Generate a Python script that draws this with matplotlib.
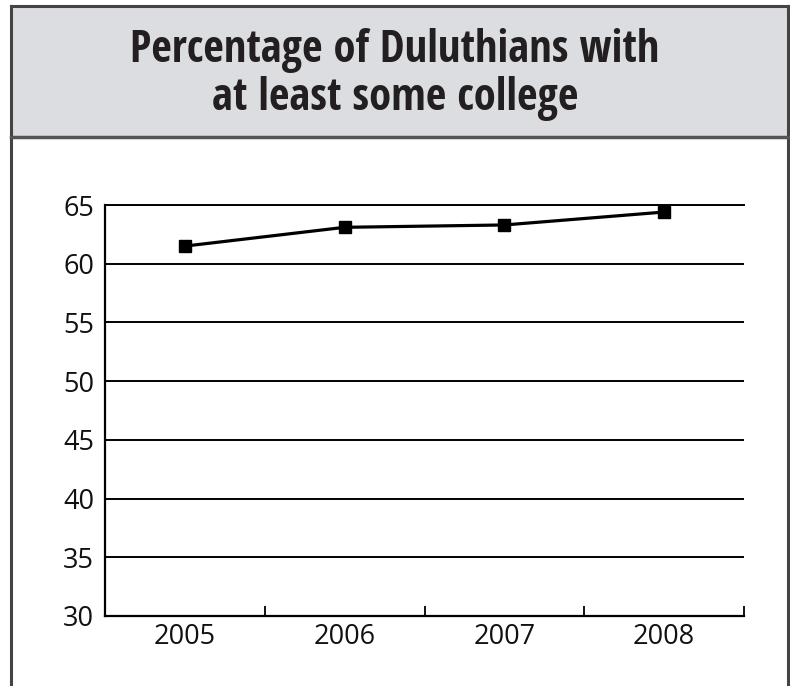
import matplotlib
matplotlib.use("Agg")
import matplotlib.pyplot as plt
from matplotlib.patches import Rectangle
from matplotlib.lines import Line2D
from matplotlib.ticker import FixedLocator

years = ["2005", "2006", "2007", "2008"]
values = [61.5, 63.1, 63.3, 64.4]
yticks = [30, 35, 40, 45, 50, 55, 60, 65]
title_lines = ["Percentage of Duluthians with", "at least some college"]

W, H = 790, 686
fig = plt.figure(figsize=(W / 100, H / 100), dpi=100)

def fx(px):
    return px / W

def fy(py):
    return 1 - py / H

# header box
fig.patches.append(Rectangle((fx(11), fy(137)), fx(788) - fx(11), fy(6) - fy(137),
                             transform=fig.transFigure, facecolor="#dcdde0",
                             edgecolor="none", zorder=0))
border_kw = dict(transform=fig.transFigure, color="#444444", linewidth=2.2)
fig.add_artist(Line2D([fx(11), fx(11)], [fy(6), 0], **border_kw))
fig.add_artist(Line2D([fx(788), fx(788)], [fy(6), 0], **border_kw))
fig.add_artist(Line2D([fx(11), fx(788)], [fy(6), fy(6)], **border_kw))
fig.add_artist(Line2D([fx(11), fx(788)], [fy(137), fy(137)], color="#555555",
                      linewidth=2.5, transform=fig.transFigure))

tfont = ["Open Sans Condensed", "DejaVu Sans"]
fig.text(0.5, fy(62), title_lines[0], ha="center", va="baseline",
         fontsize=32, fontweight="bold", family=tfont, color="#231f20")
fig.text(0.5, fy(110), title_lines[1], ha="center", va="baseline",
         fontsize=32, fontweight="bold", family=tfont, color="#231f20")

ax = fig.add_axes([fx(105), fy(616), fx(744) - fx(105), fy(205) - fy(616)])
x = list(range(len(years)))
ax.plot(x, values, color="black", linewidth=2.3, marker="s", markersize=9,
        markerfacecolor="black", markeredgecolor="black", zorder=3)
ax.set_xlim(-0.5, len(years) - 0.5)
ax.set_ylim(30, 65)
ax.set_yticks(yticks)
ax.set_yticklabels([str(v) for v in yticks])
ax.set_xticks(x)
ax.set_xticklabels(years)
ax.xaxis.set_minor_locator(FixedLocator([i - 0.5 for i in range(len(years) + 1)]))
ax.tick_params(axis="x", which="major", length=0, pad=5)
ax.tick_params(axis="x", which="minor", direction="in", length=7.5, width=1.3)
ax.tick_params(axis="y", length=0, pad=8)
for lab in ax.get_xticklabels() + ax.get_yticklabels():
    lab.set_fontsize(19.5)
    lab.set_family(["Open Sans", "DejaVu Sans"])
    lab.set_color("#111111")
ax.yaxis.grid(True, color="black", linewidth=1.4)
ax.set_axisbelow(True)
for s in ["top", "right"]:
    ax.spines[s].set_visible(False)
ax.spines["left"].set_linewidth(1.6)
ax.spines["bottom"].set_linewidth(1.6)
ax.axhline(65, color="black", linewidth=1.4, clip_on=False)

fig.savefig("out.png", dpi=100)
